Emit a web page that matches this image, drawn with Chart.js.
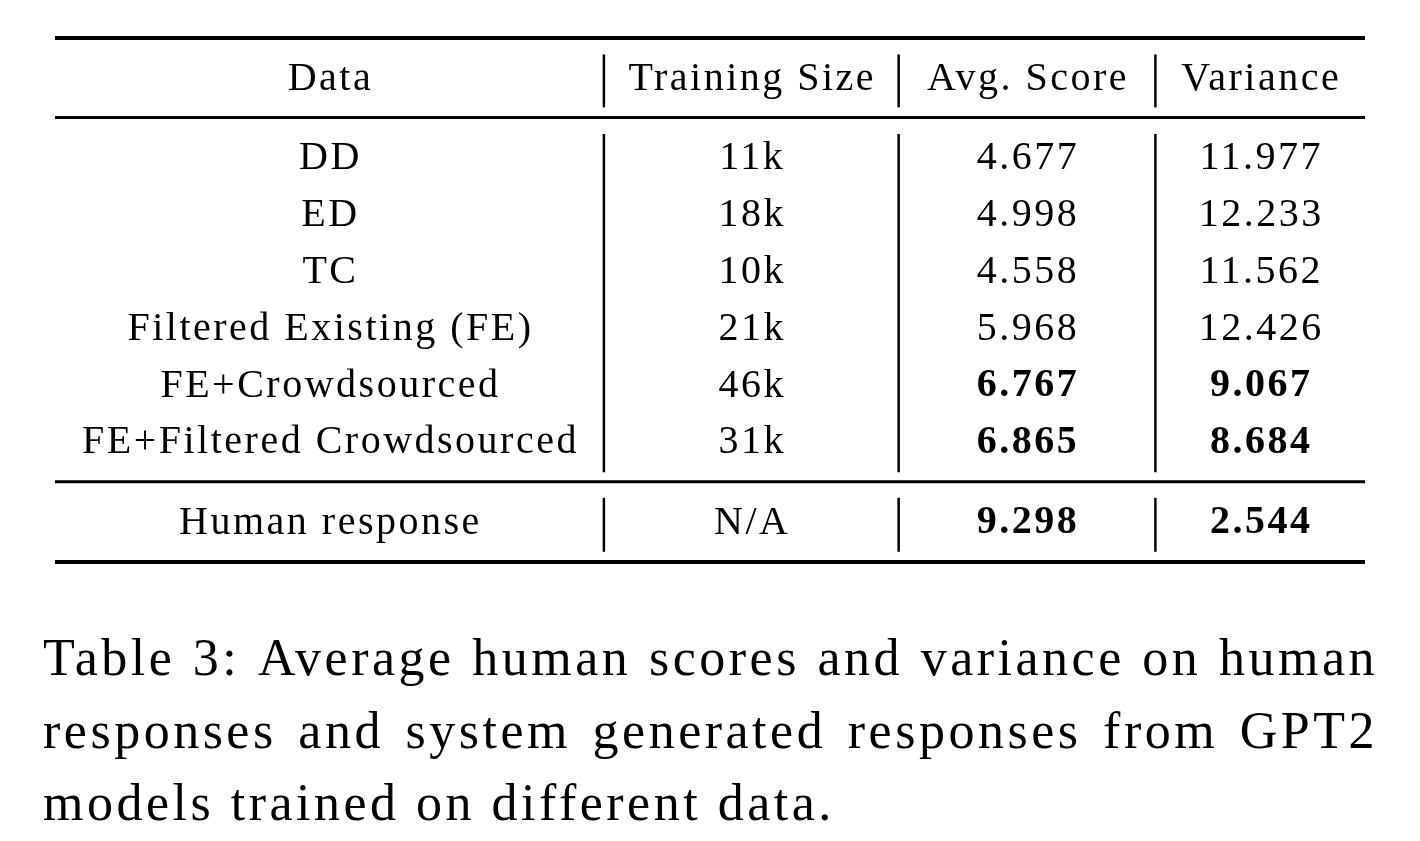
<!DOCTYPE html>
<html>
<head>
<meta charset="utf-8">
<script src="https://cdn.jsdelivr.net/npm/chart.js@4"></script>
<style>
  html, body { margin: 0; padding: 0; background: #fff; }
  #wrap { width: 1420px; height: 841px; }
</style>
</head>
<body>
<div id="wrap"><canvas id="tbl" width="1420" height="841"></canvas></div>
<script>
// Table data
const headers = ["Data", "Training Size", "Avg. Score", "Variance"];
const dataNames = ["DD", "ED", "TC", "Filtered Existing (FE)", "FE+Crowdsourced", "FE+Filtered Crowdsourced"];
const trainSizes = ["11k", "18k", "10k", "21k", "46k", "31k"];
const avgScores = ["4.677", "4.998", "4.558", "5.968", "6.767", "6.865"];
const variances = ["11.977", "12.233", "11.562", "12.426", "9.067", "8.684"];
const boldRows = [4, 5];
const humanRow = ["Human response", "N/A", "9.298", "2.544"];
const captionLines = [
    "Table 3: Average human scores and variance on human",
    "responses and system generated responses from GPT2",
    "models trained on different data."
];

// Column boundaries as fractions of table width
const colEdges = [0, 0.419, 0.644, 0.840, 1];
const FONT = "'Liberation Serif', 'DejaVu Serif', serif";

const tablePlugin = {
    id: "tablePlugin",
    afterDraw(chart) {
        const ctx = chart.ctx;
        const xs = chart.scales.x, ys = chart.scales.y;
        const left = xs.getPixelForValue(0), right = xs.getPixelForValue(1);
        const colCenter = i => xs.getPixelForValue((colEdges[i] + colEdges[i + 1]) / 2);
        ctx.save();
        ctx.fillStyle = "#000";
        ctx.strokeStyle = "#000";

        const hline = (v, w) => {
            const y = ys.getPixelForValue(v);
            ctx.lineWidth = w;
            ctx.beginPath(); ctx.moveTo(left, y); ctx.lineTo(right, y); ctx.stroke();
        };
        hline(-1.09, 4); hline(0.31, 3); hline(6.72, 3); hline(8.13, 4);

        const vseps = (a, b) => {
            ctx.lineWidth = 2.5;
            for (let i = 1; i < 4; i++) {
                const x = xs.getPixelForValue(colEdges[i]);
                ctx.beginPath();
                ctx.moveTo(x, ys.getPixelForValue(a));
                ctx.lineTo(x, ys.getPixelForValue(b));
                ctx.stroke();
            }
        };
        vseps(-0.8, 0.13); vseps(0.6, 6.55); vseps(7.0, 7.95);

        ctx.textAlign = "center";
        ctx.textBaseline = "middle";
        ctx.letterSpacing = "2.5px";
        const cell = (txt, col, v, bold) => {
            ctx.font = (bold ? "bold " : "") + "40px " + FONT;
            ctx.fillText(txt, colCenter(col) + 1, ys.getPixelForValue(v) + 2);
        };
        headers.forEach((h, c) => cell(h, c, -0.39, false));
        dataNames.forEach((n, r) => {
            const b = boldRows.includes(r);
            cell(n, 0, r + 1, false);
            cell(trainSizes[r], 1, r + 1, false);
            cell(avgScores[r], 2, r + 1, b);
            cell(variances[r], 3, r + 1, b);
        });
        humanRow.forEach((t, c) => cell(t, c, 7.41, c >= 2));

        // caption
        ctx.textAlign = "left";
        ctx.textBaseline = "alphabetic";
        ctx.letterSpacing = "3.5px";
        ctx.font = "52px " + FONT;
        const capLeft = 43, capRight = 1378;
        const baseY = [675, 748, 820];
        captionLines.forEach((line, i) => {
            const words = line.split(" ");
            if (i < captionLines.length - 1) {
                const wsum = words.reduce((s, w) => s + ctx.measureText(w).width, 0);
                const gap = (capRight - capLeft - wsum) / (words.length - 1);
                let x = capLeft;
                words.forEach(w => { ctx.fillText(w, x, baseY[i]); x += ctx.measureText(w).width + gap; });
            } else {
                ctx.fillText(line, capLeft, baseY[i]);
            }
        });
        ctx.restore();
    }
};

new Chart(document.getElementById("tbl"), {
    type: "scatter",
    data: { datasets: [{ data: [] }] },
    options: {
        responsive: false,
        animation: false,
        layout: { padding: { top: 38, bottom: 279, left: 55, right: 55 } },
        plugins: { legend: { display: false }, tooltip: { enabled: false } },
        scales: {
            x: { type: "linear", min: 0, max: 1, display: false },
            y: { type: "linear", min: -1.09, max: 8.13, reverse: true, display: false }
        }
    },
    plugins: [tablePlugin]
});
</script>
</body>
</html>
